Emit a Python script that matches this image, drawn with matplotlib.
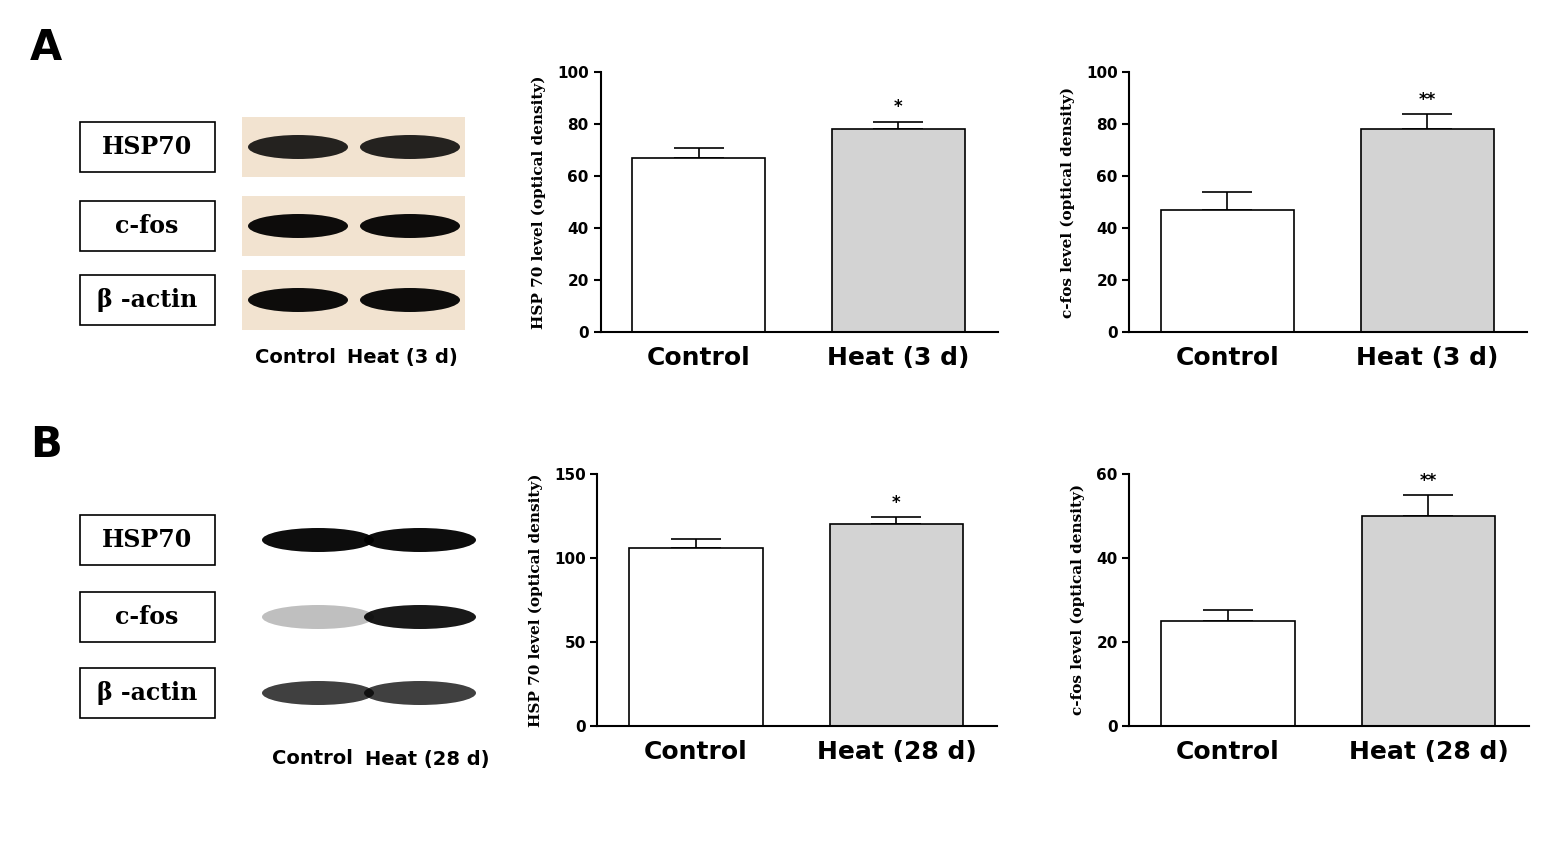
import matplotlib
matplotlib.use("Agg")
import matplotlib.pyplot as plt
from matplotlib.patches import Rectangle, Ellipse

groups_a = ["Control", "Heat (3 d)"]
groups_b = ["Control", "Heat (28 d)"]
a_hsp = [67, 78]; a_hsp_err = [4, 3]
a_fos = [47, 78]; a_fos_err = [7, 6]
b_hsp = [106, 120]; b_hsp_err = [5, 4]
b_fos = [25, 50]; b_fos_err = [2.5, 5]
sig_a = ["", "*"]; sig_a2 = ["", "**"]
proteins = ["HSP70", "c-fos", "β -actin"]

fig = plt.figure(figsize=(15.6, 8.49), dpi=100)

def bars(rect, cats, vals, errs, sig, ylim, yt, ylabel):
    ax = fig.add_axes(rect)
    x = range(len(cats))
    ax.errorbar(x, vals, yerr=[[0]*len(errs), errs], fmt="none", ecolor="black", capsize=18, elinewidth=1.2, capthick=1.2, zorder=1)
    ax.bar(x, vals, width=0.665, color=["white", "#d3d3d3"], edgecolor="black", linewidth=1.2, zorder=2)
    for xi, v, e, s in zip(x, vals, errs, sig):
        if s:
            ax.text(xi, v + e + ylim*0.02, s, ha="center", va="bottom", fontsize=12, fontweight="bold")
    ax.set_xlim(-0.49, 1.5); ax.set_ylim(0, ylim); ax.set_yticks(yt)
    for sp in ["top", "right"]:
        ax.spines[sp].set_visible(False)
    ax.spines["left"].set_linewidth(1.5); ax.spines["bottom"].set_linewidth(1.5)
    ax.set_xticks(list(x)); ax.set_xticklabels(cats, fontsize=18, fontweight="bold")
    ax.tick_params(axis="x", length=0, pad=10)
    ax.tick_params(axis="y", labelsize=11, width=1.5, length=5)
    for t in ax.get_yticklabels(): t.set_fontweight("bold")
    ax.set_ylabel(ylabel, family="DejaVu Serif", fontweight="bold", fontsize=11, labelpad=8)

bars([0.385, 0.609, 0.255, 0.306], groups_a, a_hsp, a_hsp_err, sig_a, 100, [0,20,40,60,80,100], "HSP 70 level (optical density)")
bars([0.724, 0.609, 0.255, 0.306], groups_a, a_fos, a_fos_err, sig_a2, 100, [0,20,40,60,80,100], "c-fos level (optical density)")
bars([0.383, 0.145, 0.256, 0.297], groups_b, b_hsp, b_hsp_err, sig_a, 150, [0,50,100,150], "HSP 70 level (optical density)")
bars([0.724, 0.145, 0.256, 0.297], groups_b, b_fos, b_fos_err, sig_a2, 60, [0,20,40,60], "c-fos level (optical density)")

ov = fig.add_axes([0, 0, 1, 1]); ov.set_xlim(0, 1560); ov.set_ylim(849, 0); ov.axis("off")
ov.text(30, 48, "A", fontsize=30, fontweight="bold", va="center")
ov.text(30, 445, "B", fontsize=30, fontweight="bold", va="center")

def blots(ys, x0, x1, bg, bandw, lanes, dens):
    for y, p in zip(ys, proteins):
        ov.add_patch(Rectangle((80, y - 25), 135, 50, fill=False, lw=1.2, ec="black"))
        ov.text(147, y, p, ha="center", va="center", fontsize=17, fontweight="bold", family="DejaVu Serif")
        if bg:
            ov.add_patch(Rectangle((x0, y - 30), x1 - x0, 60, color=bg, lw=0))
    for y, d in zip(ys, dens):
        for lx, a in zip(lanes, d):
            ov.add_patch(Ellipse((lx, y), bandw, 24, color="black", alpha=a, lw=0))
blots([147, 226, 300], 242, 465, "#f2e3d0", 100, [298, 410], [[0.85, 0.85], [0.95, 0.95], [0.95, 0.95]])
ov.text(295, 357, "Control", ha="center", va="center", fontsize=14, fontweight="bold")
ov.text(402, 357, "Heat (3 d)", ha="center", va="center", fontsize=14, fontweight="bold")
blots([540, 617, 693], 258, 475, None, 112, [318, 420], [[0.95, 0.95], [0.25, 0.9], [0.75, 0.75]])
ov.text(312, 759, "Control", ha="center", va="center", fontsize=14, fontweight="bold")
ov.text(427, 759, "Heat (28 d)", ha="center", va="center", fontsize=14, fontweight="bold")

fig.savefig("out.png", dpi=100)
